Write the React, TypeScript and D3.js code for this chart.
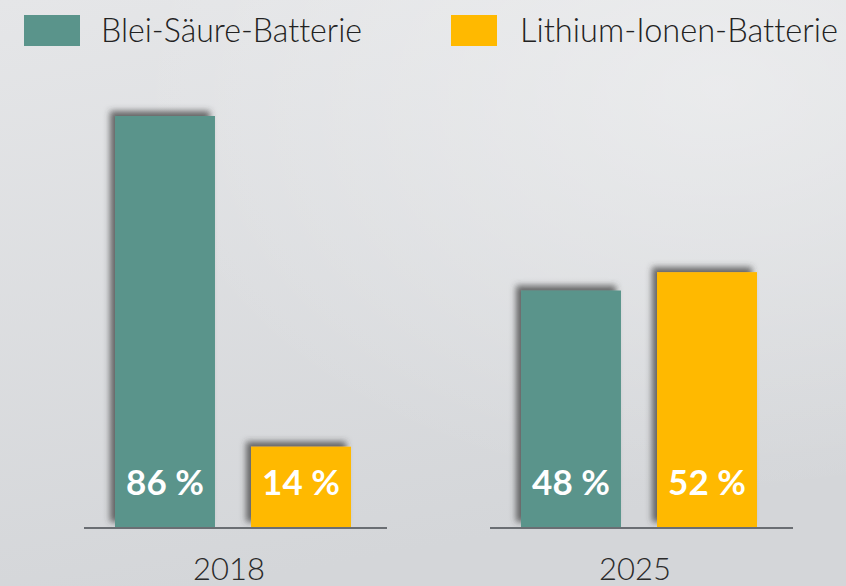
import React from "react";
import * as d3 from "d3";

const years = ["2018", "2025"];
const seriesNames = ["Blei-Säure-Batterie", "Lithium-Ionen-Batterie"];
const seriesColors = ["#5a948b", "#ffb900"];
const leadAcid = [86, 48];
const lithiumIon = [14, 52];
const valueLabels = [["86 %", "14 %"], ["48 %", "52 %"]];

const W = 846;
const H = 586;

export default function App() {
  const baseline = 527;
  const x0 = d3.scaleBand<string>().domain(years).range([30, 842]).paddingInner(0).paddingOuter(0);
  const x1 = d3.scaleBand<string>().domain(seriesNames).range([0, 236]).paddingInner(0.265);
  const y = d3.scaleLinear().domain([-3.5, 86]).range([baseline, 116]);
  const values = [leadAcid, lithiumIon];
  const legendStyle = { fontVariantLigatures: "none" as const, fontFeatureSettings: "'liga' 0" };

  return (
    <svg
      width={W}
      height={H}
      style={{ position: "absolute", left: 0, top: 0 }}
      fontFamily="Lato, 'Open Sans', sans-serif"
    >
      <defs>
        <linearGradient id="bg" x1="0" y1="0" x2="0.25" y2="1">
          <stop offset="0" stopColor="#e5e6e8" />
          <stop offset="1" stopColor="#d4d6d9" />
        </linearGradient>
        <radialGradient id="glow" cx="0.85" cy="0.15" r="0.7">
          <stop offset="0" stopColor="#ffffff" stopOpacity="0.35" />
          <stop offset="1" stopColor="#ffffff" stopOpacity="0" />
        </radialGradient>
        <filter id="shadow" x="-20%" y="-20%" width="140%" height="140%">
          <feDropShadow dx="-5" dy="-5" stdDeviation="3" floodColor="#3c3c3c" floodOpacity="0.75" />
        </filter>
      </defs>
      <rect x={0} y={0} width={W} height={H} fill="url(#bg)" />
      <rect x={0} y={0} width={W} height={H} fill="url(#glow)" />

      {/* legend */}
      <g>
        <rect x={24} y={15} width={56} height={31} fill={seriesColors[0]} />
        <text x={101} y={42} fontSize={33} fontWeight={300} fill="#222" textLength={261} lengthAdjust="spacingAndGlyphs" style={legendStyle}>
          {seriesNames[0]}
        </text>
        <rect x={451} y={15} width={46} height={31} fill={seriesColors[1]} />
        <text x={520} y={42} fontSize={33} fontWeight={300} fill="#222" textLength={318} lengthAdjust="spacingAndGlyphs" style={legendStyle}>
          {seriesNames[1]}
        </text>
      </g>

      {years.map((yr, gi) => {
        const gx = x0(yr)! + (x0.bandwidth() - 236) / 2;
        const cx = x0(yr)! + x0.bandwidth() / 2;
        return (
          <g key={yr}>
            {seriesNames.map((s, si) => {
              const v = values[si][gi];
              const bx = gx + x1(s)!;
              const top = y(v);
              return (
                <g key={s}>
                  <rect
                    x={bx}
                    y={top}
                    width={x1.bandwidth()}
                    height={baseline - top}
                    fill={seriesColors[si]}
                    filter="url(#shadow)"
                  />
                  <text
                    x={bx + x1.bandwidth() / 2}
                    y={495}
                    textAnchor="middle"
                    fontSize={35}
                    fontWeight={700}
                    fill="#ffffff"
                  >
                    {valueLabels[gi][si]}
                  </text>
                </g>
              );
            })}
            <line x1={cx - 149} x2={cx + 154} y1={baseline + 1} y2={baseline + 1} stroke="#6a6e73" strokeWidth={2} />
            <text x={cx - 4} y={580} textAnchor="middle" fontSize={31} fontWeight={300} fill="#2a2a2a">
              {yr}
            </text>
          </g>
        );
      })}
    </svg>
  );
}
